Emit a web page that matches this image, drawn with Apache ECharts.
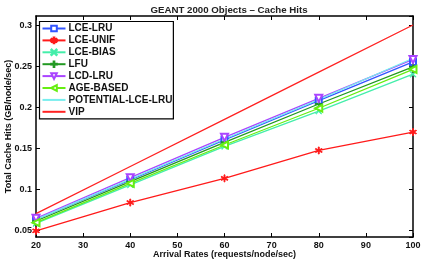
<!DOCTYPE html>
<html><head><meta charset="utf-8">
<script src="https://cdn.jsdelivr.net/npm/echarts@6/dist/echarts.min.js"></script>
<style>html,body{margin:0;padding:0;background:#fff}#c{width:421px;height:262px}</style>
</head><body><div id="c"></div>
<script>
var arrivalRates = [20, 40, 60, 80, 100];
var lceLru       = [0.063, 0.111, 0.160, 0.2077, 0.255];
var lceUnif      = [0.049, 0.0835, 0.113, 0.147, 0.1695];
var lceBias      = [0.058, 0.105, 0.152, 0.195, 0.240];
var lfu          = [0.061, 0.109, 0.157, 0.2037, 0.249];
var lcdLru       = [0.0643, 0.1138, 0.163, 0.2106, 0.258];
var ageBased     = [0.059, 0.107, 0.1537, 0.1985, 0.246];
var potential    = [0.063, 0.112, 0.161, 0.209, 0.2595];
var vip          = [0.070, 0.1275, 0.185, 0.2425, 0.300];
var seriesNames  = ['LCE-LRU','LCE-UNIF','LCE-BIAS','LFU','LCD-LRU','AGE-BASED','POTENTIAL-LCE-LRU','VIP'];

var FONT = 'Liberation Sans, Arial, sans-serif';
var asterisk = 'path://M-0.12,-1 L0.12,-1 L0.12,1 L-0.12,1 Z M-0.93,-0.38 L-0.81,-0.58 L0.93,0.38 L0.81,0.58 Z M-0.93,0.38 L-0.81,0.58 L0.93,-0.38 L0.81,-0.58 Z';
var xmark = 'path://M-1,-0.85 L-0.85,-1 L1,0.85 L0.85,1 Z M-1,0.85 L-0.85,1 L1,-0.85 L0.85,-1 Z';
var plus = 'path://M-1,-0.12 L1,-0.12 L1,0.12 L-1,0.12 Z M-0.12,-1 L0.12,-1 L0.12,1 L-0.12,1 Z';
var noMarker = {'POTENTIAL-LCE-LRU': 1, 'VIP': 1};

function pairs(v){ return arrivalRates.map(function(x,i){ return [x, v[i]]; }); }
function mk(name, data, color, symbol, rotate, size){
  return {
    name: name, type: 'line', data: pairs(data),
    symbol: symbol || 'none', symbolSize: size || 7, symbolRotate: rotate || 0,
    showSymbol: !!symbol,
    lineStyle: {color: color, width: 1.3},
    itemStyle: {color: color, borderColor: color, borderWidth: 1},
    emphasis: {disabled: true}, animation: false, z: 3
  };
}

var chart = echarts.init(document.getElementById('c'));
chart.setOption({
  animation: false,
  title: {text: 'GEANT 2000 Objects \u2013 Cache Hits', left: 224, textAlign: 'center', top: 0,
    textStyle: {fontFamily: FONT, fontSize: 9.7, fontWeight: 'bold', color: '#222'}},
  grid: {left: 36, right: 8, top: 16, bottom: 25, outerBoundsMode: 'none', containLabel: false},
  legend: {
    orient: 'vertical', left: 39.5, top: 21.5, itemWidth: 23, itemHeight: 7, itemGap: 0.9,
    padding: [1.5, 1, 1.5, 2], backgroundColor: '#fff', borderColor: '#000', borderWidth: 1.2,
    textStyle: {fontFamily: FONT, fontSize: 10, fontWeight: 'bold', color: '#111', lineHeight: 11, padding: [0,0,0,-2]},
    data: seriesNames.map(function(n){
      return noMarker[n] ? {name: n, itemStyle: {opacity: 0}} : {name: n};
    })
  },
  xAxis: [{
    type: 'value', min: 20, max: 100, interval: 10,
    name: 'Arrival Rates (requests/node/sec)', nameLocation: 'middle', nameGap: 13, nameMoveOverlap: false,
    nameTextStyle: {fontFamily: FONT, fontSize: 9, fontWeight: 'bold', color: '#111', verticalAlign: 'top'},
    axisLine: {lineStyle: {color: '#000', width: 1.5}},
    axisTick: {inside: true, length: 4, lineStyle: {color: '#000'}},
    axisLabel: {fontFamily: FONT, fontSize: 9, fontWeight: 'bold', color: '#111', margin: 4},
    splitLine: {show: false}
  }, {
    type: 'value', min: 20, max: 100, interval: 10, position: 'top',
    axisLine: {lineStyle: {color: '#000', width: 1.5}},
    axisTick: {inside: true, length: 4, lineStyle: {color: '#000'}},
    axisLabel: {show: false}, splitLine: {show: false}
  }],
  yAxis: [{
    type: 'value', min: 0.0415, max: 0.311, splitNumber: 5,
    name: 'Total Cache Hits (GB/node/sec)', nameLocation: 'middle', nameGap: 23, nameMoveOverlap: false,
    nameTextStyle: {fontFamily: FONT, fontSize: 9, fontWeight: 'bold', color: '#111'},
    axisLine: {lineStyle: {color: '#000', width: 1.5}},
    axisTick: {inside: true, length: 4, lineStyle: {color: '#000'}},
    axisLabel: {fontFamily: FONT, fontSize: 9, fontWeight: 'bold', color: '#111', margin: 4,
      showMinLabel: false, showMaxLabel: false},
    splitLine: {show: false}
  }, {
    type: 'value', min: 0.0415, max: 0.311, splitNumber: 5, position: 'right',
    axisLine: {lineStyle: {color: '#000', width: 1.5}},
    axisTick: {inside: true, length: 4, lineStyle: {color: '#000'}},
    axisLabel: {show: false}, splitLine: {show: false}
  }],
  series: [
    mk('LCE-LRU', lceLru, '#3355ff', 'emptyRect', 0, 6),
    mk('LCE-UNIF', lceUnif, '#ff1a1a', asterisk, 0, 7),
    mk('LCE-BIAS', lceBias, '#44eeaa', xmark, 0, 6),
    mk('LFU', lfu, '#229922', plus, 0, 7),
    mk('LCD-LRU', lcdLru, '#aa44ff', 'emptyTriangle', 180, 7),
    mk('AGE-BASED', ageBased, '#66ee11', 'emptyTriangle', 90, 7),
    mk('POTENTIAL-LCE-LRU', potential, '#77eeee', null),
    mk('VIP', vip, '#ff2222', null)
  ]
});
</script></body></html>
